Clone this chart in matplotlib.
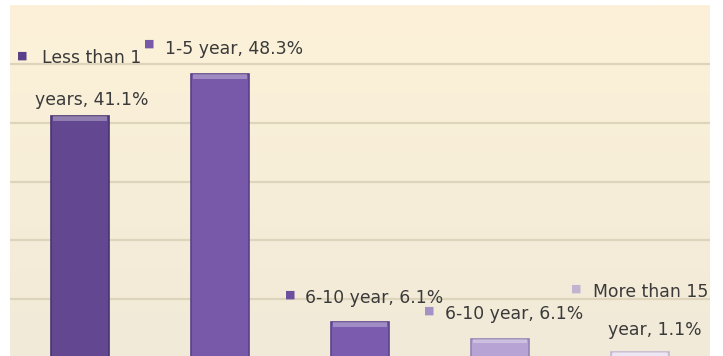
import numpy as np
import matplotlib
matplotlib.use("Agg")
import matplotlib.pyplot as plt

# data
categories = ["Less than 1 years", "1-5 year", "6-10 year", "6-10 year", "More than 15 year"]
values = [41.1, 48.3, 6.1, 3.3, 1.1]
label_lines = [
    ["Less than 1", "years, 41.1%"],
    ["1-5 year, 48.3%"],
    ["6-10 year, 6.1%"],
    ["6-10 year, 6.1%"],
    ["More than 15", "year, 1.1%"],
]
colors = ["#634891", "#7858a8", "#7b5bae", "#b7a4d4", "#e6deee"]
edges = ["#4a3470", "#5a4088", "#5c428c", "#9582b4", "#c4b8d0"]
marker_colors = ["#5a4088", "#7858a8", "#6c4f9e", "#a592c4", "#c0b4d0"]

# label placement (pixel offsets from the bar top centre)
marker_offsets = [(-58, 61), (-71, 30), (-70, 27), (-71, 28), (-64, 63)]
line_offsets = [[(-38, 58), (-45, 16)], [(-55, 25)], [(-55, 24)], [(-55, 25)], [(-47, 60), (-32, 22)]]

fig = plt.figure(figsize=(7.23, 3.56), dpi=100)
fig.patch.set_facecolor("white")
ax = fig.add_axes([10 / 723, -2 / 356, 700 / 723, 353 / 356])

# cream gradient background
grad = np.linspace(0, 1, 256).reshape(-1, 1)
top = np.array([0xfd, 0xf2, 0xd9]) / 255
bot = np.array([0xf1, 0xea, 0xd8]) / 255
img = top * (1 - grad[..., None]) + bot * grad[..., None]
ax.imshow(img, extent=[0, 1, 0, 1], transform=ax.transAxes, aspect="auto", zorder=0)

x = np.arange(len(values))
ax.set_xlim(-0.5, len(values) - 0.5)
ax.set_ylim(0, 60)
for g in range(10, 60, 10):
    ax.axhline(g, color="#ddd4bb", lw=1.6, zorder=1)

ax.bar(x, values, width=0.41, color=colors, edgecolor=edges, linewidth=1.2, zorder=2)
# lighter bevel strip at the top of each bar
ax.bar(x, [0.8] * len(values), bottom=[v - 0.8 for v in values], width=0.39,
       color="white", alpha=0.3, linewidth=0, zorder=3)

for i, v in enumerate(values):
    mx, my = marker_offsets[i]
    ax.annotate("\u25a0", xy=(i, v), xytext=(mx, my), textcoords="offset pixels",
                ha="center", va="center", fontsize=8, color=marker_colors[i],
                annotation_clip=False, zorder=5)
    for line, (tx, ty) in zip(label_lines[i], line_offsets[i]):
        ax.annotate(line, xy=(i, v), xytext=(tx, ty), textcoords="offset pixels",
                    ha="left", va="center", fontsize=12.4, color="#3a3a3a",
                    annotation_clip=False, zorder=5)

for s in ax.spines.values():
    s.set_visible(False)
ax.set_xticks([])
ax.set_yticks([])

plt.savefig("out.png", dpi=100)
